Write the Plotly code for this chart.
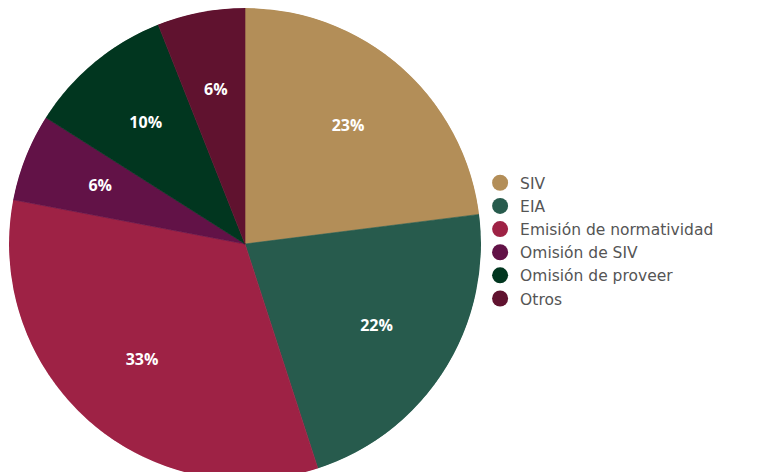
import numpy as np
import plotly.graph_objects as go

categorias = ["SIV", "EIA", "Emisión de normatividad", "Omisión de SIV",
              "Omisión de proveer", "Otros"]
porcentajes = [23, 22, 33, 6, 10, 6]
colores = ["#B38E58", "#275B4D", "#9E2245", "#621247", "#01361F", "#60122F"]

# slice geometry in degrees, clockwise from 12 o'clock
total = sum(porcentajes)
anchos = np.array(porcentajes) / total * 360
centros = np.cumsum(anchos) - anchos / 2

fig = go.Figure()

fig.add_trace(
    go.Barpolar(
        r=[1] * len(porcentajes),
        theta=centros,
        width=anchos,
        base=0,
        marker={"color": colores, "line": {"width": 0.6, "color": colores}},
        text=categorias,
        hovertemplate="%{text}<extra></extra>",
        showlegend=False,
    )
)

# percentage labels in the middle of every slice
fig.add_trace(
    go.Scatterpolar(
        r=[0.66] * len(porcentajes),
        theta=centros,
        mode="text",
        text=[f"{p}%" for p in porcentajes],
        textfont={"family": "Open Sans", "size": 16, "color": "white", "weight": "bold"},
        showlegend=False,
        hoverinfo="skip",
    )
)

# legend entries with round markers
for nombre, color in zip(categorias, colores):
    fig.add_trace(
        go.Scatterpolar(
            r=[None], theta=[None],
            mode="markers",
            marker={"symbol": "circle", "size": 16, "color": color},
            name=nombre,
        )
    )

fig.update_layout(
    width=759,
    height=472,
    margin={"l": 0, "r": 0, "t": 0, "b": 0},
    paper_bgcolor="white",
    polar={
        "domain": {"x": [1 / 759, 473 / 759], "y": [0, 1]},
        "bgcolor": "rgba(0,0,0,0)",
        "hole": 0,
        "radialaxis": {"visible": False, "range": [0, 1], "showgrid": False},
        "angularaxis": {"visible": False, "rotation": 90, "direction": "clockwise",
                        "showgrid": False},
        "bargap": 0,
    },
    legend={
        "x": 0.622,
        "y": 0.507,
        "xanchor": "left",
        "yanchor": "middle",
        "font": {"family": "DejaVu Sans", "size": 15.5, "color": "#555555"},
        "itemsizing": "trace",
        "tracegroupgap": 0,
        "bgcolor": "rgba(0,0,0,0)",
    },
)

fig.write_html("out.html")
